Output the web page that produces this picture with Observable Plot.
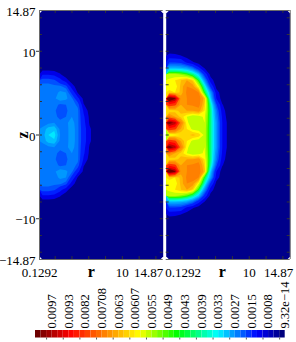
<!DOCTYPE html>
<html><head><meta charset="utf-8">
<script src="https://cdn.jsdelivr.net/npm/d3@7"></script>
<script src="https://cdn.jsdelivr.net/npm/@observablehq/plot@0.6"></script>
<style>
html,body{margin:0;padding:0;background:#fff;width:296px;height:342px;overflow:hidden}
#wrap{position:relative;width:296px;height:342px}
#wrap>svg{position:absolute;background:transparent;max-width:none}
</style></head><body><div id="wrap"></div>
<script>
// field values x 1e4, rows from z=0 upward (field is symmetric in z), columns from the axis outward
const leftRows = [
 [25,31,33,23,21,26,20,11,3.5],
 [24,29,30,22,21,26,20,11,3.5],
 [21,22,23,21,22,25,20,10,2],
 [20,20,21,17,19,23,20,9,1.5],
 [20,20,20,16,18,22,20,7,0.5],
 [20,20,21,18,19,21,18,3],
 [20,20,22,26,24,20,10,1],
 [20,20,21,24,23,13,2],
 [20,20,20,20,17,5],
 [18,18,16,10,4.5],
 [7,7,6,3]
];
const rightRows = [
 [54,56,58,60,62,60,54,40,25,8,1],
 [80,76,64,58,54,53,54,40,25,8,1],
 [100,94,70,56,52,52,55,40,25,8,1],
 [70,64,60,55,52,53,56,40,23,7],
 [58,60,62,64,64,66,58,40,21,5],
 [80,76,64,68,69,70,60,38,16,3],
 [106,98,66,68,71,71,62,31,8],
 [60,58,62,69,71,68,44,26,5],
 [55,56,62,68,66,56,36,14,1],
 [56,58,61,64,60,44,24,5],
 [52,52,50,46,40,30,12,1],
 [29,29,28,26,20,10,2.5],
 [14,14,13,6,3],
 [4.5,4,3,1]
];
const bandLevels = [0,2.67,8,15,19,23,27,31,35,39,43,47,51,55,58,61,64,68,74,82,90,96];
const bandColors = ["#00008b","#00008b","#0000e8","#0020ff","#0050ff","#0078ff","#0098ff","#00c0ff","#00e8ff","#00ffb0","#00ff70","#20ff00","#80ff00","#c0ff00","#ffff00","#ffd800","#ffb800","#ff9800","#ff8000","#ff3000","#ff0000","#c00000","#700000"];
const legendLabels = ["0.0097","0.0093","0.0082","0.00708","0.0063","0.00607","0.0055","0.0049","0.0043","0.0039","0.0033","0.0027","0.0015","0.0008","9.32e−14"];
const legendLabelSlots = [2,5,8,11,14,17,20,23,26,29,32,35,38,41,44];
const legendStops = [0,6.3,12.5,18.8,25.6,32.8,40,44];
const legendStopColors = ["#600000","#ff0000","#ff8000","#ffff00","#00ff00","#00ffff","#0000ff","#00008b"];
const rMinorTicks = [2,4,6,8,10,12,14];
const zMinorTicks = [-14,-12,-10,-8,-6,-4,-2,0,2,4,6,8,10,12,14];
const zTickValues = [14.87,10,0,-10,-14.87];
const zTickLabels = ["14.87","10","0","−10","−14.87"];
const rMin = 0.1292, rMax = 14.87, zMax = 14.87;
const nCols = 21, nHalf = 20;
const serif = "Liberation Serif";

function flatGrid(rows){
  const out = [];
  for (let k = -nHalf; k <= nHalf; k++){
    const row = rows[Math.abs(k)] || [];
    for (let c = 0; c < nCols; c++) out.push(row[c] === undefined ? 0 : row[c]);
  }
  return out;
}

function panel(rows, o){
  return Plot.plot({
    width:o.width, height:280, marginLeft:o.ml, marginRight:o.mr, marginTop:10, marginBottom:21,
    x:{domain:[rMin,rMax], axis:null},
    y:{domain:[-zMax,zMax], axis:null},
    color:{type:"threshold", domain:bandLevels, range:bandColors},
    style:{fontFamily:serif, background:"transparent"},
    marks:[
      Plot.contour(flatGrid(rows), {value:d=>d, width:nCols, height:2*nHalf+1, x1:rMin, x2:rMax, y1:-zMax, y2:zMax,
        thresholds:bandLevels, fill:"value", stroke:"none"}),
      Plot.ruleX(rMinorTicks,{y1:zMax,y2:zMax-0.35,stroke:"#333",strokeWidth:1}),
      Plot.ruleX(rMinorTicks,{y1:-zMax,y2:-zMax+0.35,stroke:"#333",strokeWidth:1}),
      Plot.ruleY(zMinorTicks,{x1:rMin,x2:rMin+0.35,stroke:"#333",strokeWidth:1}),
      Plot.ruleY(zMinorTicks,{x1:rMax,x2:rMax-0.35,stroke:"#333",strokeWidth:1}),
      Plot.ruleY([zMax,-zMax],{stroke:"#6a6a6a",strokeWidth:1}),
      Plot.ruleX([o.edge],{stroke:"#6a6a6a",strokeWidth:1}),
      ...o.rLabels.map(([t,v,dx]) => Plot.text([t],{x:[v],y:[-zMax],dx,dy:13,fontSize:13,fill:"#000"})),
      Plot.text(["r"],{x:[o.rName],y:[-zMax],dy:12,fontSize:16,fontWeight:"bold",fill:"#000"}),
      ...(o.zAxis ? [
        Plot.axisY({ticks:[10,0,-10],tickFormat:()=>"",tickSize:3,stroke:"#333"}),
        Plot.text(zTickLabels,{x:zTickValues.map(()=>rMin),y:zTickValues,dx:-4,dy:1.5,textAnchor:"end",fontSize:13,fill:"#000"}),
        Plot.text(["z"],{x:[rMin],y:[0],dx:-17,dy:0,rotate:-90,fontSize:16,fontWeight:"bold",fill:"#000"})
      ] : [])
    ]
  });
}

function legend(){
  const cells = d3.range(45);
  const colorAt = d3.scaleLinear().domain(legendStops).range(legendStopColors);
  return Plot.plot({
    width:296, height:64, marginLeft:35, marginRight:11.3, marginTop:52, marginBottom:4.5,
    x:{domain:[0,45], axis:null},
    y:{axis:null},
    style:{fontFamily:serif, background:"transparent"},
    marks:[
      Plot.rectY(cells,{x1:d=>d,x2:d=>d+1,y1:0,y2:1,fill:d=>colorAt(d+0.5),inset:0}),
      Plot.axisX({anchor:"bottom",ticks:legendLabelSlots,tickFormat:()=>"",tickSize:2,stroke:"#555"}),
      Plot.text(legendLabels,{x:legendLabelSlots,frameAnchor:"top",dx:0.5,dy:-2,rotate:-90,textAnchor:"start",fontSize:12.5,fill:"#000"})
    ]
  });
}

const wrap = document.getElementById("wrap");
const a = panel(leftRows,{width:164,ml:39,mr:1.3,zAxis:true,rName:6.3,edge:rMin,
  rLabels:[["0.1292",rMin,0],["10",10,0],["14.87",rMax,-14.5]]});
a.style.left="0px"; a.style.top="0px"; wrap.appendChild(a);
const b = panel(rightRows,{width:146,ml:15.7,mr:6.3,zAxis:false,rName:6.8,edge:rMax,
  rLabels:[["0.1292",rMin,17],["10",10,0],["14.87",rMax,-11.7]]});
b.style.left="150px"; b.style.top="0px"; wrap.appendChild(b);
const c = legend();
c.style.left="0px"; c.style.top="278px"; wrap.appendChild(c);
</script></body></html>
